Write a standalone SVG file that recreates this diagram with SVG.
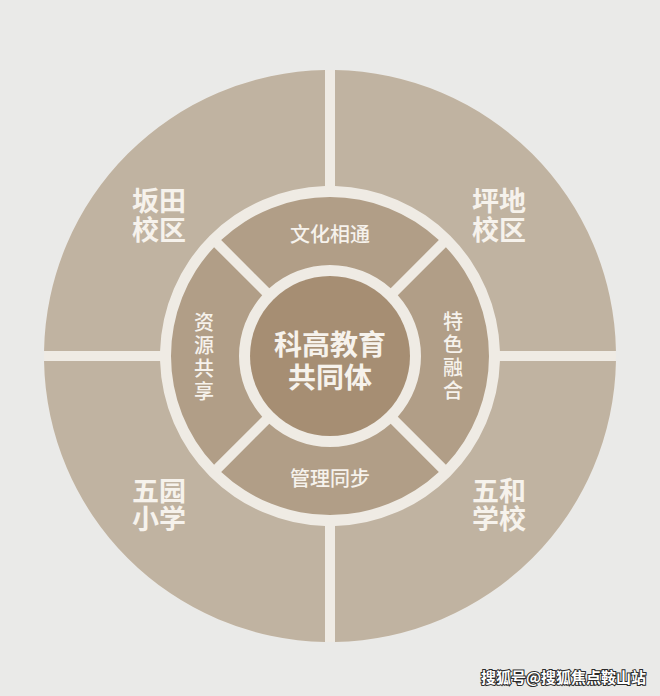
<svg xmlns="http://www.w3.org/2000/svg" width="660" height="696" viewBox="0 0 660 696">
<defs>
<style>
.q{fill:#c0b3a1}
.m{fill:#b19e87}
.c{fill:#a68e73}
.t{font-family:"Noto Sans CJK SC","Noto Sans",sans-serif;fill:#f6f2ec;text-anchor:middle;font-weight:500}
.big{font-size:27px;font-weight:bold}
.mid{font-size:20px}
.ctr{font-size:28px;font-weight:bold}
.wm{font-family:"Noto Sans CJK SC","Noto Sans",sans-serif;font-size:15px;font-weight:bold;fill:#ffffff;stroke:#2a2a2a;stroke-width:2;paint-order:stroke;text-anchor:end}
</style>
</defs>
<rect width="660" height="696" fill="#eaeae8"/>
<circle cx="330" cy="356" r="286" fill="#efebe4"/>
<g id="q-bantian">
<path class="q" d="M 44.04 351 A 286 286 0 0 1 325 70.04 L 325 186.07 A 170 170 0 0 0 160.07 351 Z"/>
<text class="t big"><tspan x="159" y="211">坂田</tspan><tspan x="159" y="240">校区</tspan></text>
</g>
<g id="q-pingdi">
<path class="q" d="M 335 70.04 A 286 286 0 0 1 615.96 351 L 499.93 351 A 170 170 0 0 0 335 186.07 Z"/>
<text class="t big"><tspan x="499" y="211">坪地</tspan><tspan x="499" y="240">校区</tspan></text>
</g>
<g id="q-wuhe">
<path class="q" d="M 615.96 361 A 286 286 0 0 1 335 641.96 L 335 525.93 A 170 170 0 0 0 499.93 361 Z"/>
<text class="t big"><tspan x="499" y="501">五和</tspan><tspan x="499" y="529">学校</tspan></text>
</g>
<g id="q-wuyuan">
<path class="q" d="M 325 641.96 A 286 286 0 0 1 44.04 361 L 160.07 361 A 170 170 0 0 0 325 525.93 Z"/>
<text class="t big"><tspan x="159" y="501">五园</tspan><tspan x="159" y="529">小学</tspan></text>
</g>
<g id="m-culture">
<path class="m" d="M 221.16 240.09 A 159 159 0 0 1 438.84 240.09 L 390.71 288.21 A 91 91 0 0 0 269.29 288.21 Z"/>
<text class="t mid" x="330" y="241.6">文化相通</text>
</g>
<g id="m-feature">
<path class="m" d="M 445.91 247.16 A 159 159 0 0 1 445.91 464.84 L 397.79 416.71 A 91 91 0 0 0 397.79 295.29 Z"/>
<text class="t mid"><tspan x="453" y="328.6">特</tspan><tspan x="453" y="351.6">色</tspan><tspan x="453" y="374.6">融</tspan><tspan x="453" y="397.6">合</tspan></text>
</g>
<g id="m-manage">
<path class="m" d="M 438.84 471.91 A 159 159 0 0 1 221.16 471.91 L 269.29 423.79 A 91 91 0 0 0 390.71 423.79 Z"/>
<text class="t mid" x="330" y="485.6">管理同步</text>
</g>
<g id="m-resource">
<path class="m" d="M 214.09 464.84 A 159 159 0 0 1 214.09 247.16 L 262.21 295.29 A 91 91 0 0 0 262.21 416.71 Z"/>
<text class="t mid"><tspan x="204" y="329.6">资</tspan><tspan x="204" y="352.6">源</tspan><tspan x="204" y="375.6">共</tspan><tspan x="204" y="398.6">享</tspan></text>
</g>
<g id="center">
<circle class="c" cx="330" cy="356" r="80"/>
<text class="t ctr"><tspan x="330" y="354.6">科高教育</tspan><tspan x="330" y="387.6">共同体</tspan></text>
</g>
<g id="connectors"></g>
<text class="wm" x="646" y="683">搜狐号@搜狐焦点鞍山站</text>
</svg>
